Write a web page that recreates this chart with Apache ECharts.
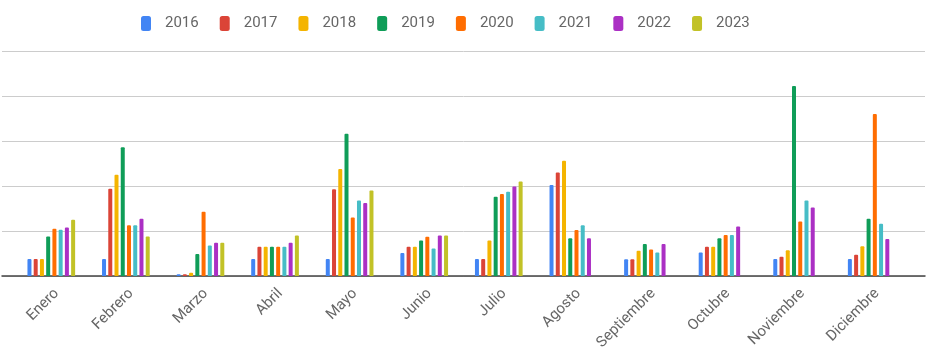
<!DOCTYPE html>
<html>
<head>
<meta charset="utf-8">
<script src="https://cdn.jsdelivr.net/npm/echarts@6/dist/echarts.min.js"></script>
<style>
  html, body { margin: 0; padding: 0; background: #fff; }
  #chart { width: 934px; height: 354px; }
</style>
</head>
<body>
<div id="chart"></div>
<script>
var months = ['Enero', 'Febrero', 'Marzo', 'Abril', 'Mayo', 'Junio', 'Julio', 'Agosto', 'Septiembre', 'Octubre', 'Noviembre', 'Diciembre'];
var years = ['2016', '2017', '2018', '2019', '2020', '2021', '2022', '2023'];
var colors = ['#4285F4', '#DB4437', '#F4B400', '#0F9D58', '#FF6D01', '#46BDC6', '#AB30C4', '#C2C227'];

var y2016 = [3.8, 3.8, 0.4, 3.8, 3.8, 5.1, 3.8, 20.2, 3.7, 5.2, 3.8, 3.8];
var y2017 = [3.8, 19.4, 0.4, 6.5, 19.3, 6.5, 3.8, 23.0, 3.7, 6.5, 4.3, 4.7];
var y2018 = [3.8, 22.5, 0.7, 6.5, 23.8, 6.5, 7.9, 25.6, 5.6, 6.5, 5.7, 6.6];
var y2019 = [8.8, 28.6, 4.9, 6.5, 31.6, 7.9, 17.6, 8.4, 7.1, 8.4, 42.2, 12.7];
var y2020 = [10.5, 11.3, 14.3, 6.5, 13.0, 8.7, 18.2, 10.2, 5.9, 9.1, 12.1, 36.0];
var y2021 = [10.3, 11.3, 6.8, 6.5, 16.8, 6.1, 18.7, 11.3, 5.2, 9.1, 16.8, 11.6];
var y2022 = [10.8, 12.7, 7.4, 7.4, 16.2, 9.0, 19.9, 8.4, 7.1, 11.0, 15.2, 8.2];
var y2023 = [12.5, 8.8, 7.4, 9.0, 19.0, 9.0, 21.0, '-', '-', '-', '-', '-'];

var values = [y2016, y2017, y2018, y2019, y2020, y2021, y2022, y2023];

var chart = echarts.init(document.getElementById('chart'));

var series = years.map(function (name, i) {
    return {
        name: name,
        type: 'bar',
        xAxisIndex: 1,
        yAxisIndex: 1,
        barWidth: 4,
        barGap: '56%',
        itemStyle: { color: colors[i], borderRadius: [1, 1, 0, 0] },
        data: values[i]
    };
});

var option = {
    backgroundColor: '#fff',
    color: colors,
    textStyle: { fontFamily: 'Roboto' },
    legend: {
        top: 11,
        left: 136,
        icon: 'roundRect',
        itemWidth: 10,
        itemHeight: 15,
        itemGap: 21,
        textStyle: { color: '#666', fontSize: 15, padding: [0, 0, 0, 9] },
        data: years
    },
    grid: [
        { left: 2, right: 9, top: 51, bottom: 78 },   // gridlines + baseline
        { left: 14, right: 25, top: 51, bottom: 78 }  // bars
    ],
    xAxis: [
        {
            type: 'value', gridIndex: 0, min: 0, max: 1,
            axisLine: { show: true, lineStyle: { color: '#444', width: 1.5 } },
            axisTick: { show: false }, axisLabel: { show: false }, splitLine: { show: false }
        },
        {
            type: 'category', gridIndex: 1, data: months,
            axisLine: { show: false }, axisTick: { show: false },
            axisLabel: { interval: 0, rotate: 45, margin: 10, verticalAlign: 'top', color: '#666', fontSize: 15 }
        }
    ],
    yAxis: [
        {
            type: 'value', gridIndex: 0, min: 0, max: 50, interval: 10,
            axisLine: { show: false }, axisTick: { show: false }, axisLabel: { show: false },
            splitLine: { lineStyle: { color: '#cccccc', width: 1 } }
        },
        { type: 'value', gridIndex: 1, min: 0, max: 50, show: false }
    ],
    series: series
};

chart.setOption(option);
</script>
</body>
</html>
